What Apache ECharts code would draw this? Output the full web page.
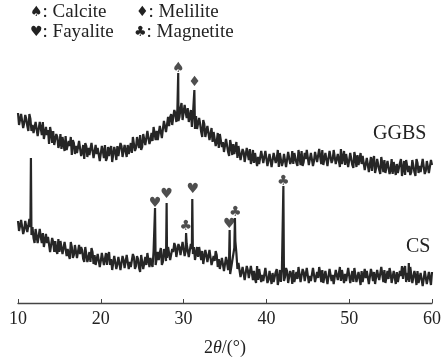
<!DOCTYPE html>
<html>
<head>
<meta charset="utf-8">
<script src="https://cdn.jsdelivr.net/npm/echarts@6/dist/echarts.min.js"></script>
<style>
  html, body { margin: 0; padding: 0; background: #fff; }
  #chart { width: 444px; height: 363px; }
</style>
</head>
<body>
<div id="chart"></div>
<script>
var angleStart = 10;
var angleStep = 0.25;
var xTicks = [10, 20, 30, 40, 50, 60];

// GGBS: values at 10, 10.25, 10.5 ...
var ggbsCounts = [
  190,178,191,180, 184,172,184,178, 171,182,167,175, 181,166,168,159, 170,172,158,166,
  159,154,166,167, 153,157,148,160, 157,148,161,151, 144,157,155,147, 160,145,149,156,
  143,152,158,145, 147,157,142,151, 157,146,157,144, 160,158,154,150, 166,155,160,168,
  156,167,156,174, 163,162,175,172, 165,178,174,184, 172,177,189,176, 190,194,186,200,
  184,191,195,182, 176,187,187,176, 179,166,179,168, 179,169,161,171, 161,155,170,161,
  152,163,147,157, 159,151,145,158, 145,151,139,153, 154,144,140,150, 146,137,151,142,
  152,139,147,137, 149,144,136,151, 141,148,138,153, 142,139,150,137, 146,152,141,144,
  152,136,149,142, 151,139,146,153, 140,148,137,150, 143,152,138,147, 154,141,138,149,
  143,150,135,145, 148,136,139,148, 133,143,139,132, 147,135,142,129, 139,143,132,144,
  133,129,141,139, 130,144,134,128, 142,137,131,143, 127,140,137,129, 143,132,140,128,
  138
];
// GGBS: values at the half steps 10.125, 10.375 ...
var ggbsHalfCounts = [
  178,189,175,188, 177,189,172,170, 181,167,181,168, 164,176,173,176, 160,158,169,155,
  169,166,152,153, 162,166,163,149, 150,162,147,158, 160,146,148,160, 145,158,155,142,
  157,145,142,156, 154,141,156,143, 147,160,146,158, 146,149,160,166, 152,166,155,153,
  169,158,172,159, 170,176,163,163, 177,165,182,171, 186,186,178,193, 181,182,195,183,
  198,185,181,193, 188,174,174,185, 171,183,166,177, 163,175,171,157, 170,169,156,151,
  164,151,163,148, 149,161,157,143, 154,141,155,143, 139,153,150,137, 139,152,140,152,
  137,149,136,150, 140,153,150,137, 149,136,151,139, 152,150,140,153, 138,137,150,153,
  138,150,137,151, 141,154,139,138, 150,137,152,140, 153,139,149,136, 139,152,149,136,
  150,138,151,136, 138,150,147,133, 145,131,146,143, 130,144,133,146, 131,130,142,129,
  144,141,128,130, 140,127,142,143, 131,128,143,131, 144,130,131,144, 129,142,130,143
];
var ggbsPeakAngles = [29.35, 31.3];
var ggbsPeakCounts = [230, 213];

var csCounts = [
  82,71,82,73, 83,69,76,76, 60,75,62,66, 70,55,60,68, 53,61,62,49,
  51,61,48,59, 54,44,56,48, 59,44,49,53, 41,55,45,41, 51,48,36,51,
  42,48,36,38, 51,44,34,48, 39,46,32,43, 35,48,41,34, 46,37,44,31,
  48,40,38,50, 45,36,50,39, 43,55,41,51, 45,56,42,51, 57,45,56,48,
  62,52,60,45, 54,56,44,46, 55,52,37,48, 41,52,37,42, 48,44,32,47,
  34,40,46,29, 40,62,34,41, 27,37,21,33, 27,36,32,20, 23,34,28,20,
  36,23,32,30, 19,34,24,21, 35,26,32,20, 29,33,22,24, 36,19,31,21,
  34,27,23,35, 20,25,30,33, 18,31,21,32, 28,19,34,24, 22,35,29,20,
  33,26,21,36, 23,30,32,19, 25,34,21,29, 31,18,27,22, 35,33,20,24,
  30,21,34,31, 20,27,24,37, 30,21,34,22, 27,32,18,29, 24,34,20,31,
  31
];
var csHalfCounts = [
  72,83,69,82, 71,84,68,65, 74,60,74,60, 56,69,66,51, 65,51,52,64,
  62,49,61,47, 48,61,45,58, 45,58,56,44, 56,41,51,55, 39,38,49,36,
  50,38,50,48, 38,33,47,34, 46,33,47,35, 48,34,36,49, 34,47,35,48,
  34,46,50,36, 39,52,38,51, 50,38,54,42, 56,43,54,60, 46,59,48,61,
  47,59,46,59, 49,43,56,56, 43,39,53,41, 53,38,47,52, 36,34,45,32,
  46,33,29,42, 55,50,40,26, 36,23,37,25, 37,23,24,37, 34,21,22,35,
  20,32,19,21, 31,18,33,34, 22,35,20,32, 19,21,31,36, 21,34,22,35,
  20,22,35,21, 31,36,21,20, 32,19,34,22, 19,33,23,36, 33,20,22,35,
  20,32,35,21, 31,18,21,34, 32,19,34,22, 19,33,23,36, 21,20,32,35,
  20,32,19,21, 32,37,34,21, 23,36,20,32, 18,20,30,17, 32,19,31,18
];
var csPeakAngles = [11.56, 26.55, 27.95, 30.3, 31.05, 35.56, 36.2, 42.05, 57.2];
var csPeakCounts = [145, 95, 100, 70, 104, 73, 85, 117, 40];

// phase markers above the peaks
var markAngles = [29.35, 31.33, 26.55, 27.95, 30.27, 31.1, 35.52, 36.24, 42.05];
var markCounts = [235, 221, 100, 109, 77, 114, 79, 91, 122];
var markSymbols = ['♠', '♦', '♥', '♥', '♣', '♥', '♥', '♣', '♣'];

function buildPattern(grid, half, peakAngles, peakCounts) {
  var pts = grid.map(function (v, i) { return [angleStart + i * angleStep, v]; });
  half.forEach(function (v, i) { pts.push([angleStart + (i + 0.5) * angleStep, v]); });
  peakAngles.forEach(function (a, i) { pts.push([a, peakCounts[i]]); });
  pts.sort(function (p, q) { return p[0] - q[0]; });
  return pts;
}

var serif = '"Liberation Serif", "Times New Roman", serif';
var lineColor = '#262626';

var myChart = echarts.init(document.getElementById('chart'));

function legendText(x, y, sym, name) {
  return {
    type: 'text', left: x, top: y,
    style: {
      text: '{s|' + sym + '}: ' + name,
      font: '19px ' + serif,
      fill: '#222',
      rich: { s: { fontSize: 14, fontFamily: 'DejaVu Sans', fill: '#222', verticalAlign: 'middle' } }
    }
  };
}

myChart.setOption({
  animation: false,
  backgroundColor: '#fff',
  grid: { left: 18, right: 10, top: 0, bottom: 60 },
  xAxis: {
    type: 'value',
    min: 10, max: 60, interval: 10,
    name: '2{i|θ}/(°)',
    nameLocation: 'middle',
    nameGap: 36,
    nameTextStyle: {
      fontFamily: serif, fontSize: 18, color: '#222',
      rich: { i: { fontFamily: serif, fontSize: 18, fontStyle: 'italic', color: '#222' } }
    },
    axisLine: { lineStyle: { color: '#444', width: 1.3 } },
    axisTick: { inside: true, length: 4, lineStyle: { color: '#444' } },
    axisLabel: {
      margin: 7, fontFamily: serif, fontSize: 18, color: '#222',
      formatter: function (v) { return xTicks.indexOf(v) >= 0 ? String(v) : ''; }
    },
    splitLine: { show: false }
  },
  yAxis: { type: 'value', min: 0, max: 303, show: false },
  graphic: [
    legendText(30, 3, '♠', 'Calcite'),
    legendText(136, 3, '♦', 'Melilite'),
    legendText(30, 23, '♥', 'Fayalite'),
    legendText(134, 23, '♣', 'Magnetite'),
    { type: 'text', left: 373, top: 124, style: { text: 'GGBS', font: '20px ' + serif, fill: '#222' } },
    { type: 'text', left: 406, top: 237, style: { text: 'CS', font: '20px ' + serif, fill: '#222' } }
  ],
  series: [
    {
      name: 'GGBS', type: 'line', showSymbol: false,
      data: buildPattern(ggbsCounts, ggbsHalfCounts, ggbsPeakAngles, ggbsPeakCounts),
      lineStyle: { color: lineColor, width: 2.2 }
    },
    {
      name: 'CS', type: 'line', showSymbol: false,
      data: buildPattern(csCounts, csHalfCounts, csPeakAngles, csPeakCounts),
      lineStyle: { color: lineColor, width: 2.2 }
    },
    {
      name: 'phases', type: 'scatter', symbolSize: 0,
      data: markAngles.map(function (a, i) { return { value: [a, markCounts[i]], name: markSymbols[i] }; }),
      label: {
        show: true, position: 'inside',
        formatter: function (p) { return p.name; },
        fontFamily: 'DejaVu Sans', fontSize: 14, color: '#222'
      }
    }
  ]
});
</script>
</body>
</html>
